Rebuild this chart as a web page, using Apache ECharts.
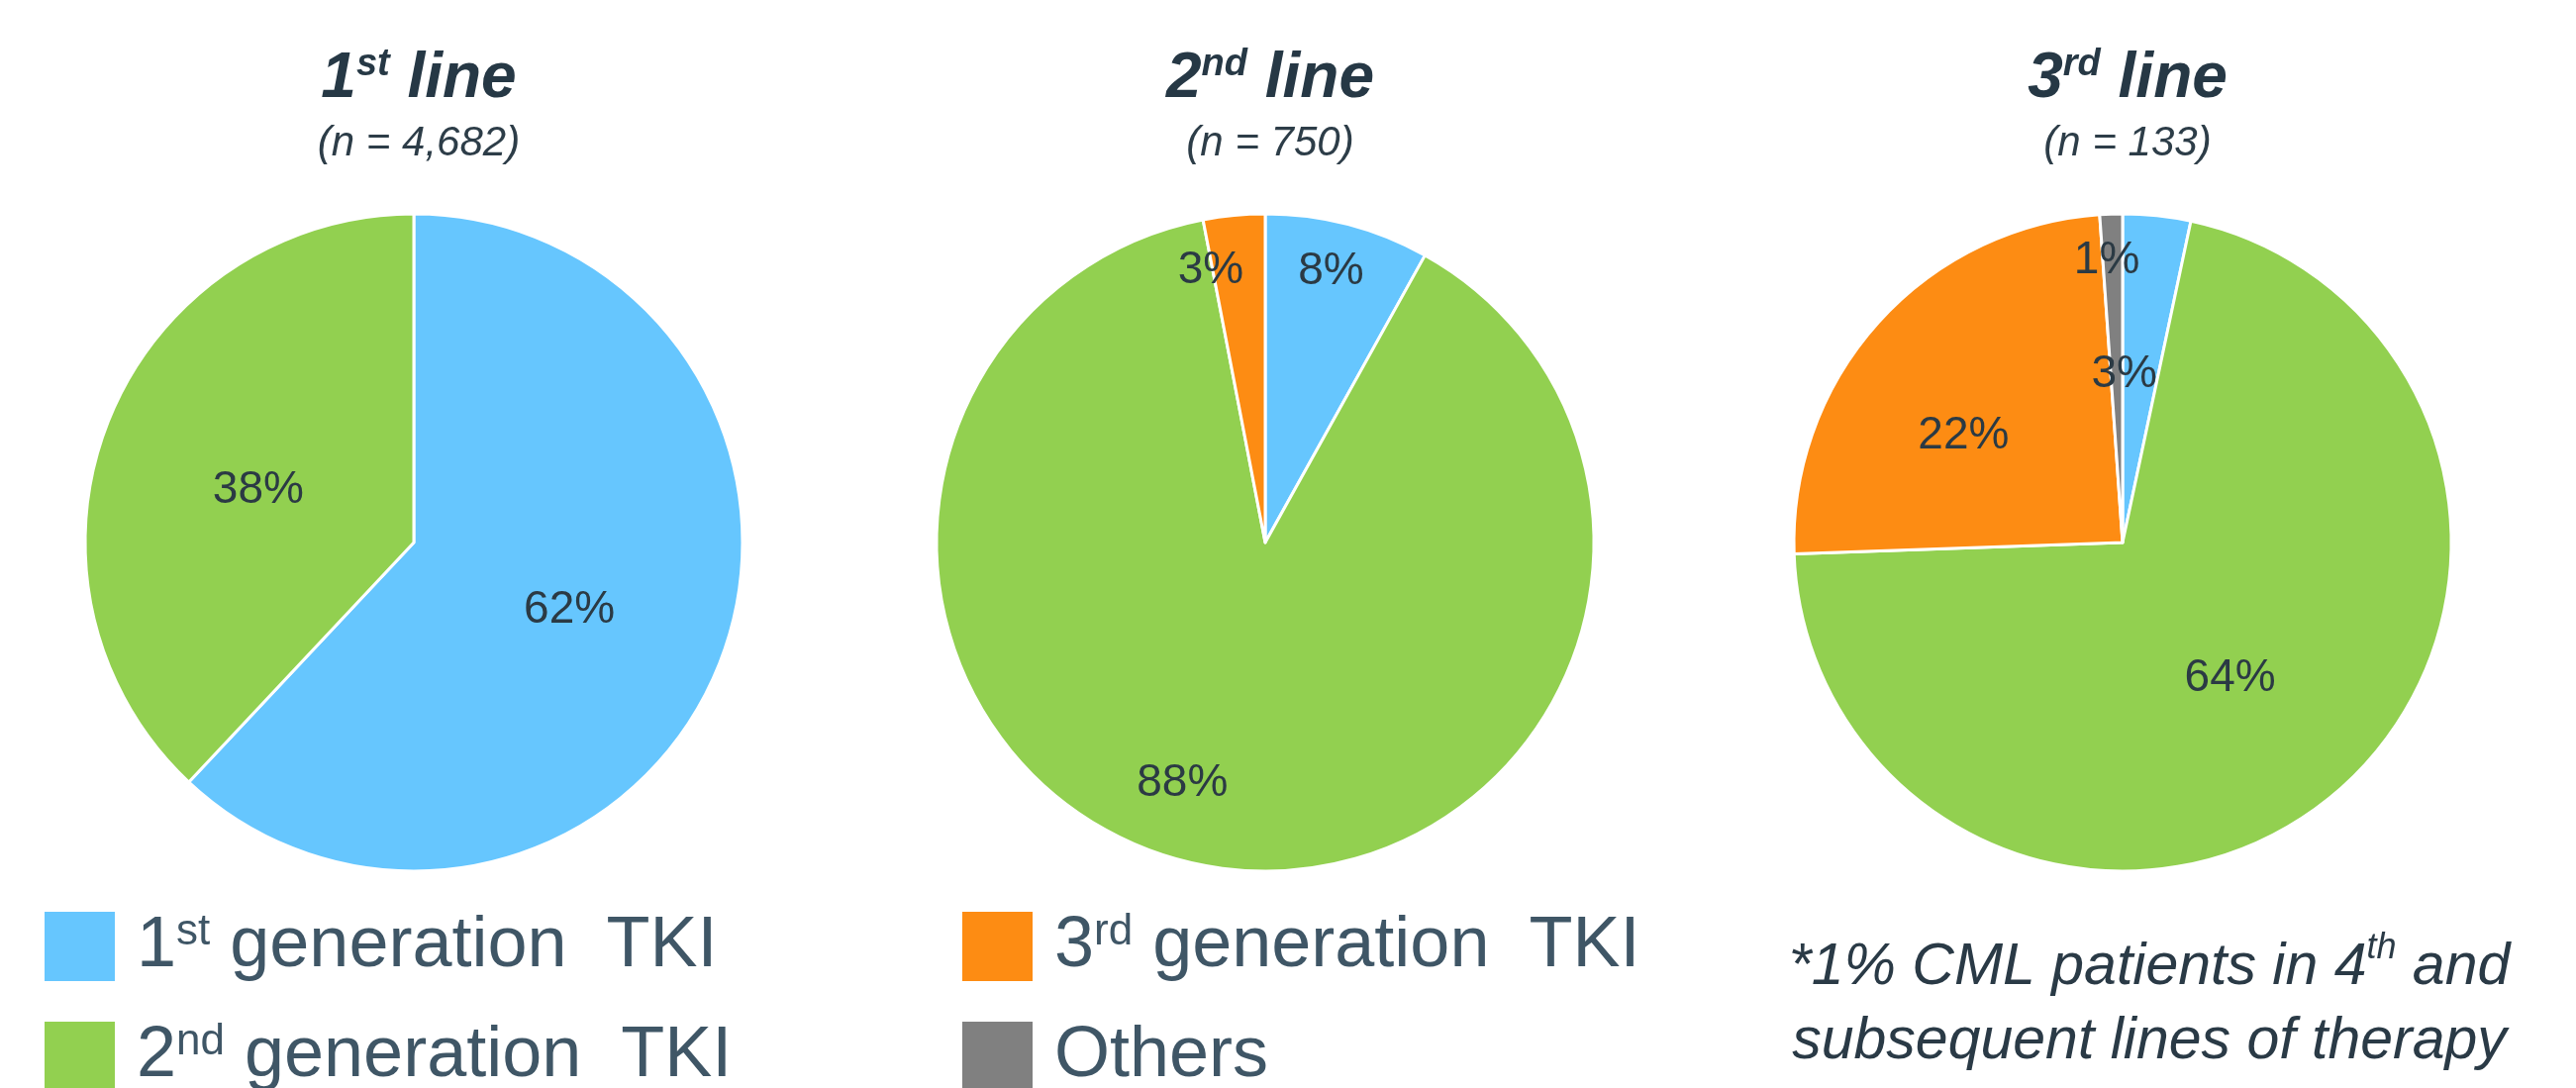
<!DOCTYPE html>
<html>
<head>
<meta charset="utf-8">
<script src="https://cdn.jsdelivr.net/npm/echarts@6/dist/echarts.min.js"></script>
<style>html,body{margin:0;padding:0;background:#fff}#main{width:2602px;height:1099px}</style>
</head>
<body>
<div id="main"></div>
<script>
const categories = ['1st generation  TKI', '2nd generation  TKI', '3rd generation  TKI', 'Others'];
const colors = ['#66c6fe', '#92d050', '#fd8c13', '#808080'];

const lineOrdinals = [['1', 'st'], ['2', 'nd'], ['3', 'rd']];
const lineCounts = ['4,682', '750', '133'];

const firstLine = [62, 38];
const secondLine = [8, 88, 3];
const thirdLine = [3, 64, 22, 1];

// label nudges (px), the source placed some labels by hand
const firstNudge = [[0, 6], [0, 10]];
const secondNudge = [[24, -110], [-57, 76], [-39, -106]];
const thirdNudge = [[-16, -2], [0, 8], [-35, 5], [-10, -116]];

const pieX = [418, 1278, 2144];
const pieY = 548;
const pieR = 332;

// legend slots: [left, top] of each swatch
const legendSlots = [[43, 919], [43, 1030], [970, 919], [970, 1030]];

const ink = '#263845';
const legendInk = '#3f5666';
const sans = 'Liberation Sans, Arial, sans-serif';

function pie(values, nudge, i) {
    return {
        type: 'pie',
        center: [pieX[i], pieY],
        radius: pieR,
        startAngle: 90,
        clockwise: true,
        silent: true,
        animation: false,
        itemStyle: {borderColor: '#fff', borderWidth: 3},
        label: {
            show: true, position: 'inside', formatter: '{c}%',
            fontFamily: sans, fontSize: 46, color: '#2b3a44'
        },
        labelLine: {show: false},
        emphasis: {disabled: true},
        data: values.map((v, k) => ({
            name: categories[k],
            value: v,
            itemStyle: {color: colors[k]},
            label: {offset: nudge[k]}
        }))
    };
}

const legendRich = {
    m: {fontFamily: sans, fontSize: 72, lineHeight: 72, color: legendInk},
    s: {fontFamily: sans, fontSize: 44, lineHeight: 44, color: legendInk, verticalAlign: 'top'}
};

function legendLabel(name) {
    const m = name.match(/^(\d)(st|nd|rd)(.*)$/);
    return m ? `{m|${m[1]}}{s|${m[2]}}{m|${m[3]}}` : `{m|${name}}`;
}

const legends = categories.map((name, k) => ({
    orient: 'vertical', left: legendSlots[k][0], top: legendSlots[k][1],
    padding: 0,
    itemWidth: 73, itemHeight: 72,
    icon: 'rect', selectedMode: false,
    data: [name],
    formatter: legendLabel,
    textStyle: {rich: legendRich, padding: [0, 0, 0, 16]}
}));

const titles = lineOrdinals.map((t, i) => ({
    text: `{b|${t[0]}}{s|${t[1]}}{b| line}`,
    subtext: `(n = ${lineCounts[i]})`,
    left: pieX[i], textAlign: 'center', top: 42, itemGap: 12,
    textStyle: {
        rich: {
            b: {fontFamily: sans, fontWeight: 'bold', fontStyle: 'italic', fontSize: 64, lineHeight: 66, color: ink},
            s: {fontFamily: sans, fontWeight: 'bold', fontStyle: 'italic', fontSize: 38, lineHeight: 36, color: ink, verticalAlign: 'top'}
        }
    },
    subtextStyle: {fontFamily: sans, fontStyle: 'italic', fontSize: 42, color: '#2d3d48'}
}));

const noteRich = {
    f: {fontFamily: sans, fontStyle: 'italic', fontWeight: 'normal', fontSize: 59, lineHeight: 75, color: '#2a3a46'},
    s: {fontFamily: sans, fontStyle: 'italic', fontWeight: 'normal', fontSize: 36, lineHeight: 40, color: '#2a3a46', verticalAlign: 'top'}
};
titles.push({
    text: '{f|*1% CML patients in 4}{s|th}{f| and}\n{f|subsequent lines of therapy}',
    left: 2166, textAlign: 'center', top: 935,
    textStyle: {fontWeight: 'normal', rich: noteRich}
});

const chart = echarts.init(document.getElementById('main'));
chart.setOption({
    animation: false,
    title: titles,
    legend: legends,
    series: [
        pie(firstLine, firstNudge, 0),
        pie(secondLine, secondNudge, 1),
        pie(thirdLine, thirdNudge, 2)
    ]
});
</script>
</body>
</html>
